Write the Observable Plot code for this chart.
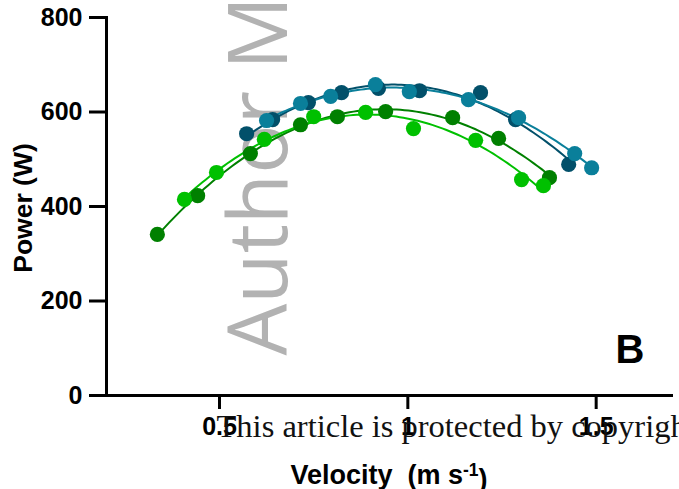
<!DOCTYPE html>
<html><head><meta charset="utf-8">
<script src="https://cdn.jsdelivr.net/npm/d3@7"></script>
<script src="https://cdn.jsdelivr.net/npm/@observablehq/plot@0.6"></script>
<style>body{margin:0;background:#fff;} svg{display:block;}</style>
</head><body><div id="chart"></div>
<script>
// ---- data ----
const seriesNames = ["Series 1", "Series 2", "Series 3", "Series 4"];
const seriesColors = ["#008000", "#00c000", "#02506a", "#0a7f9a"];

const vel1 = [0.335, 0.442, 0.582, 0.715, 0.813, 0.941, 1.119, 1.241, 1.376];
const pow1 = [341, 423, 512, 573, 590, 601, 588, 544, 461];

const vel2 = [0.407, 0.492, 0.619, 0.750, 0.888, 1.015, 1.180, 1.302, 1.360];
const pow2 = [415, 472, 542, 590, 599, 565, 540, 457, 444];

const vel3 = [0.572, 0.641, 0.736, 0.824, 0.922, 1.031, 1.193, 1.286, 1.427];
const pow3 = [554, 584, 620, 641, 650, 645, 641, 584, 489];

const vel4 = [0.625, 0.715, 0.795, 0.914, 1.004, 1.161, 1.294, 1.443, 1.488];
const pow4 = [582, 618, 633, 658, 643, 626, 588, 512, 482];

const xTicks = [0.5, 1, 1.5];
const yTicks = [0, 200, 400, 600, 800];

const xLabelMain = "Velocity  (m s";
const xLabelSup = "-1";
const xLabelEnd = ")";
const yLabel = "Power (W)";
const panelLabel = "B";
const watermark = "Author Manuscript";
const copyrightText = "This article is protected by copyright. All rights reserved";

// ---- build tables ----
const allVel = [vel1, vel2, vel3, vel4];
const allPow = [pow1, pow2, pow3, pow4];
const points = [];
allVel.forEach((vs, i) => vs.forEach((v, j) => points.push({series: seriesNames[i], v, p: allPow[i][j]})));

// second-order polynomial least-squares fit (the curves in the figure)
function quadFit(xs, ys) {
  let s = [0,0,0,0,0], t = [0,0,0];
  xs.forEach((x, i) => {
    const y = ys[i];
    for (let k = 0; k < 5; k++) s[k] += Math.pow(x, k);
    for (let k = 0; k < 3; k++) t[k] += Math.pow(x, k) * y;
  });
  const A = [[s[0], s[1], s[2], t[0]], [s[1], s[2], s[3], t[1]], [s[2], s[3], s[4], t[2]]];
  for (let c = 0; c < 3; c++) {
    for (let r = c + 1; r < 3; r++) {
      const f = A[r][c] / A[c][c];
      for (let k = c; k < 4; k++) A[r][k] -= f * A[c][k];
    }
  }
  const b = [0,0,0];
  for (let r = 2; r >= 0; r--) {
    let sum = A[r][3];
    for (let k = r + 1; k < 3; k++) sum -= A[r][k] * b[k];
    b[r] = sum / A[r][r];
  }
  return b;
}
const fitRows = [];
allVel.forEach((vs, i) => {
  const b = quadFit(vs, allPow[i]);
  const lo = d3.min(vs), hi = d3.max(vs);
  d3.range(0, 101).forEach(k => {
    const v = lo + (hi - lo) * k / 100;
    fitRows.push({series: seriesNames[i], v, p: b[0] + b[1] * v + b[2] * v * v});
  });
});

const bold = "bold";
const plot = Plot.plot({
  width: 679, height: 489,
  marginLeft: 106, marginRight: 8, marginTop: 17, marginBottom: 94,
  style: {fontFamily: "'Liberation Sans', Arial, sans-serif", background: "white", color: "black", overflow: "visible"},
  x: {domain: [0.2, 1.7]},
  y: {domain: [0, 800]},
  color: {domain: seriesNames, range: seriesColors},
  marks: [
    Plot.text([watermark], {frameAnchor: "bottom-left", rotate: -90, textAnchor: "start", lineAnchor: "bottom",
      dx: 180, dy: -40, fontSize: 82, fontFamily: "'Open Sans', sans-serif", fill: "#b2b2b2"}),
    Plot.line(fitRows, {x: "v", y: "p", z: "series", stroke: "series", strokeWidth: 2}),
    Plot.dot(points, {x: "v", y: "p", fill: "series", r: 7.6}),
    Plot.frame({anchor: "left", strokeWidth: 3}),
    Plot.frame({anchor: "bottom", strokeWidth: 3}),
    Plot.axisY({ticks: yTicks, tickSize: 17, tickPadding: 7, fontSize: 25, fontWeight: bold, strokeWidth: 3, label: null}),
    Plot.axisX({ticks: xTicks, tickSize: 14, tickPadding: 8, fontSize: 25, fontWeight: bold, strokeWidth: 3, label: null,
      tickFormat: d => String(d)}),
    Plot.text([yLabel], {frameAnchor: "left", rotate: -90, textAnchor: "middle", lineAnchor: "bottom",
      dx: -75, dy: 1.5, fontSize: 26.5, fontWeight: bold}),
    Plot.text([xLabelMain], {frameAnchor: "bottom", textAnchor: "middle", lineAnchor: "bottom",
      dx: 0, dy: 88, fontSize: 27, fontWeight: bold, className: "xlabel"}),
    Plot.text([panelLabel], {frameAnchor: "bottom-left", textAnchor: "start", lineAnchor: "bottom",
      dx: 509, dy: -33, fontSize: 40, fontWeight: bold}),
    Plot.text([copyrightText], {frameAnchor: "bottom-left", textAnchor: "start", lineAnchor: "bottom",
      dx: 110, dy: 41, fontSize: 32.5, fontFamily: "'Liberation Serif', 'Times New Roman', serif", fill: "#111"})
  ]
});

// superscript in the x-axis label
const t = d3.select(plot).select(".xlabel text");
t.text(null);
t.append("tspan").text(xLabelMain);
t.append("tspan").attr("dy", "-0.45em").attr("font-size", "0.65em").text(xLabelSup);
t.append("tspan").attr("dy", "0.45em").text(xLabelEnd);

document.getElementById("chart").appendChild(plot);
</script>
</body></html>
